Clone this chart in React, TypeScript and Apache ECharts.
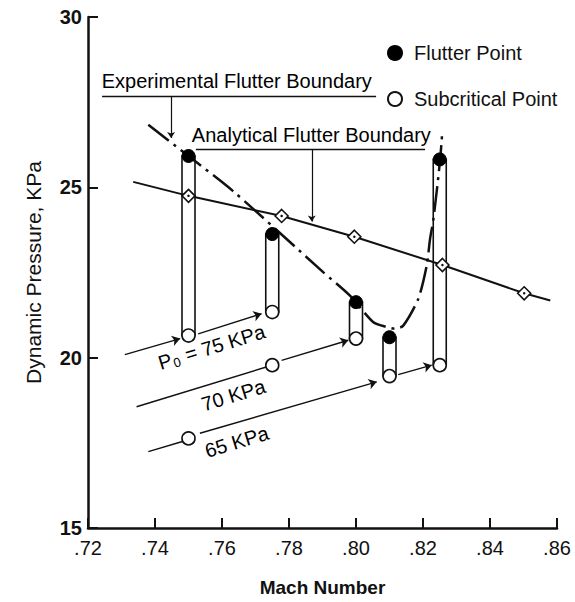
import React, { useEffect, useRef } from 'react';
import * as echarts from 'echarts';

const FONT = "'Liberation Sans', Arial, Helvetica, sans-serif";
const INK = '#111';

// Axis ticks
const machTickLabels = ['.72', '.74', '.76', '.78', '.80', '.82', '.84', '.86'];
const pressureTicks = [15, 20, 25, 30];

// Flutter (solid) and subcritical (open) test points [Mach, q]
const flutterPoints = [
  [0.75, 25.92], [0.775, 23.63], [0.8, 21.63], [0.81, 20.6], [0.825, 25.82],
];
const subcriticalPoints = [
  [0.75, 20.65], [0.775, 21.34], [0.8, 20.56], [0.81, 19.46], [0.825, 19.78],
  [0.775, 19.78], [0.75, 17.63],
];
// Vertical test runs [Mach, qLow, qHigh]
const testRuns = [
  [0.75, 20.65, 25.92], [0.775, 21.34, 23.63], [0.8, 20.56, 21.63],
  [0.81, 19.46, 20.6], [0.825, 19.78, 25.82],
];
// Analytical boundary (diamonds at interior points)
const analyticalMach = [0.7335, 0.75, 0.7778, 0.7995, 0.8258, 0.8502, 0.858];
const analyticalQ = [25.16, 24.75, 24.16, 23.55, 22.72, 21.89, 21.68];
// Experimental boundary (dash-dot)
const experimentalMach = [0.738, 0.7501, 0.7633, 0.7902, 0.7982, 0.8052, 0.8092, 0.8116, 0.8141, 0.8186, 0.8211, 0.8221, 0.8231, 0.8246, 0.8251, 0.8256, 0.8257];
const experimentalQ = [26.84, 25.91, 24.89, 22.51, 21.82, 21.04, 20.9, 20.85, 20.94, 21.73, 22.7, 23.48, 24.06, 25.33, 25.82, 26.4, 26.66];

// Constant total-pressure paths [from, to, hasArrow]
const pathStarts = [[0.731, 20.09], [0.7529, 20.7], [0.7345, 18.56], [0.7778, 19.92], [0.738, 17.24], [0.7534, 17.78], [0.8126, 19.5]];
const pathEnds = [[0.7475, 20.56], [0.7718, 21.29], [0.7737, 19.74], [0.7977, 20.51], [0.7482, 17.54], [0.8062, 19.29], [0.8226, 19.78]];
const pathArrows = [true, true, false, true, false, true, true];

const pressureLabels = ['{p|P}{s|0}{p| = 75 KPa}', '{p|70 KPa}', '{p|65 KPa}'];
const pressureLabelPos = [[0.7569, 20.31], [0.7634, 18.9], [0.7644, 17.53]];

const calloutTexts = ['Experimental Flutter Boundary', 'Analytical Flutter Boundary'];
const calloutPos = [[0.7241, 28.11], [0.751, 26.55]];
const underlines = [[[0.7242, 27.67], [0.806, 27.67]], [[0.7522, 26.11], [0.8206, 26.11]]];
const leaders = [[[0.7448, 27.67], [0.7448, 26.45]], [[0.7868, 26.11], [0.7868, 24.0]]];

export default function App() {
  const ref = useRef<HTMLDivElement>(null);

  useEffect(() => {
    if (!ref.current) return;
    const chart = echarts.init(ref.current, null, { renderer: 'svg' });

    const analyticalData = analyticalMach.map((m, i) => ({
      value: [m, analyticalQ[i]],
      symbol: i === 0 || i === analyticalMach.length - 1 ? 'none' : 'diamond',
    }));
    const diamondDots = analyticalMach.slice(1, -1).map((m, i) => [m, analyticalQ[i + 1]]);

    const option: any = {
      animation: false,
      textStyle: { fontFamily: FONT, color: INK },
      grid: { left: 88, top: 17, right: 18, bottom: 72 },
      legend: {
        data: ['Flutter Point', 'Subcritical Point'],
        orient: 'vertical',
        left: 382,
        top: 38,
        itemWidth: 14,
        itemHeight: 14,
        itemGap: 26,
        textStyle: { fontSize: 20, color: INK, fontFamily: FONT, lineHeight: 20, padding: [0, 0, 0, 7] },
      },
      xAxis: {
        type: 'value',
        min: 0.72,
        max: 0.86,
        interval: 0.02,
        name: 'Mach Number',
        nameLocation: 'middle',
        nameGap: 50,
        nameTextStyle: { fontSize: 19, fontWeight: 'bold', color: INK, fontFamily: FONT },
        axisLine: { lineStyle: { color: INK, width: 2.5 } },
        axisTick: { inside: true, length: 10, lineStyle: { color: INK, width: 2 } },
        splitLine: { show: false },
        axisLabel: {
          fontSize: 20,
          color: INK,
          margin: 10,
          fontFamily: FONT,
          formatter: (v: number) => machTickLabels[Math.round((v - 0.72) / 0.02)] ?? '',
        },
      },
      yAxis: {
        type: 'value',
        min: pressureTicks[0],
        max: pressureTicks[pressureTicks.length - 1],
        interval: 5,
        name: 'Dynamic Pressure, KPa',
        nameLocation: 'middle',
        nameGap: 44,
        nameTextStyle: { fontSize: 21, color: INK, fontFamily: FONT },
        axisLine: { show: true, lineStyle: { color: INK, width: 2.5 } },
        axisTick: { show: true, inside: true, length: 10, lineStyle: { color: INK, width: 2 } },
        splitLine: { show: false },
        axisLabel: { fontSize: 20, fontWeight: 'bold', color: INK, margin: 6, fontFamily: FONT },
      },
      series: [
        {
          type: 'custom',
          name: 'runs',
          z: 1,
          data: testRuns,
          encode: { x: 0, y: [1, 2] },
          renderItem: (params: any, api: any) => {
            const x = api.value(0);
            const top = api.coord([x, api.value(2)]);
            const bot = api.coord([x, api.value(1)]);
            const w = 13;
            return {
              type: 'rect',
              shape: { x: top[0] - w / 2, y: top[1], width: w, height: bot[1] - top[1] },
              style: { fill: '#fff', stroke: INK, lineWidth: 1.6 },
            };
          },
        },
        {
          type: 'line',
          name: 'Analytical',
          z: 3,
          data: analyticalData,
          symbolSize: 13,
          itemStyle: { color: '#fff', borderColor: INK, borderWidth: 1.6, opacity: 1 },
          lineStyle: { color: INK, width: 2 },
        },
        {
          type: 'scatter',
          name: 'dots',
          z: 6,
          data: diamondDots,
          symbol: 'circle',
          symbolSize: 2.5,
          itemStyle: { color: INK, opacity: 1 },
        },
        {
          type: 'line',
          name: 'Experimental',
          z: 4,
          smooth: 0.25,
          showSymbol: false,
          symbol: 'none',
          data: experimentalMach.map((m, i) => [m, experimentalQ[i]]),
          lineStyle: { color: INK, width: 2.5, type: [26, 6, 3, 6] },
        },
        {
          type: 'lines',
          name: 'paths',
          coordinateSystem: 'cartesian2d',
          z: 4,
          data: pathStarts.map((s, i) => ({
            coords: [s, pathEnds[i]],
            symbol: ['none', pathArrows[i] ? 'arrow' : 'none'],
          })),
          symbolSize: 8,
          lineStyle: { color: INK, width: 1.4, opacity: 1 },
        },
        {
          type: 'lines',
          name: 'underlines',
          coordinateSystem: 'cartesian2d',
          z: 4,
          data: underlines.map((c) => ({ coords: c })),
          symbol: ['none', 'none'],
          lineStyle: { color: INK, width: 1.4, opacity: 1 },
        },
        {
          type: 'lines',
          name: 'leaders',
          coordinateSystem: 'cartesian2d',
          z: 4,
          data: leaders.map((c) => ({ coords: c })),
          symbol: ['none', 'arrow'],
          symbolSize: 6,
          lineStyle: { color: INK, width: 1.2, opacity: 1 },
        },
        {
          type: 'scatter',
          name: 'Flutter Point',
          z: 5,
          data: flutterPoints,
          symbol: 'circle',
          symbolSize: 13,
          itemStyle: { color: '#000', borderColor: '#000', borderWidth: 1, opacity: 1 },
        },
        {
          type: 'scatter',
          name: 'Subcritical Point',
          z: 5,
          data: subcriticalPoints,
          symbol: 'circle',
          symbolSize: 13,
          itemStyle: { color: '#fff', borderColor: INK, borderWidth: 1.6, opacity: 1 },
        },
        {
          type: 'scatter',
          name: 'callouts',
          z: 7,
          symbolSize: 0,
          itemStyle: { opacity: 1 },
          data: calloutPos.map((p, i) => ({ value: p, name: calloutTexts[i] })),
          label: {
            show: true,
            position: 'right',
            distance: 0,
            formatter: (p: any) => p.name,
            fontSize: 20,
            color: '#000',
            opacity: 1,
            fontFamily: FONT,
          },
        },
        {
          type: 'scatter',
          name: 'pressureLabels',
          z: 7,
          symbolSize: 0,
          itemStyle: { opacity: 1 },
          data: pressureLabelPos.map((p, i) => ({ value: p, name: pressureLabels[i] })),
          label: {
            show: true,
            position: 'inside',
            rotate: 17,
            opacity: 1,
            formatter: (p: any) => p.name,
            color: '#000',
            fontFamily: FONT,
            rich: {
              p: { fontSize: 20, color: '#000', fontFamily: FONT, lineHeight: 22, verticalAlign: 'middle' },
              s: { fontSize: 13, color: '#000', fontFamily: FONT, lineHeight: 22, verticalAlign: 'bottom', padding: [10, 1, 0, 1] },
            },
          },
        },
      ],
    };

    chart.setOption(option);
    return () => chart.dispose();
  }, []);

  return <div ref={ref} style={{ width: 575, height: 602, position: 'absolute', left: 0, top: 0 }} />;
}
